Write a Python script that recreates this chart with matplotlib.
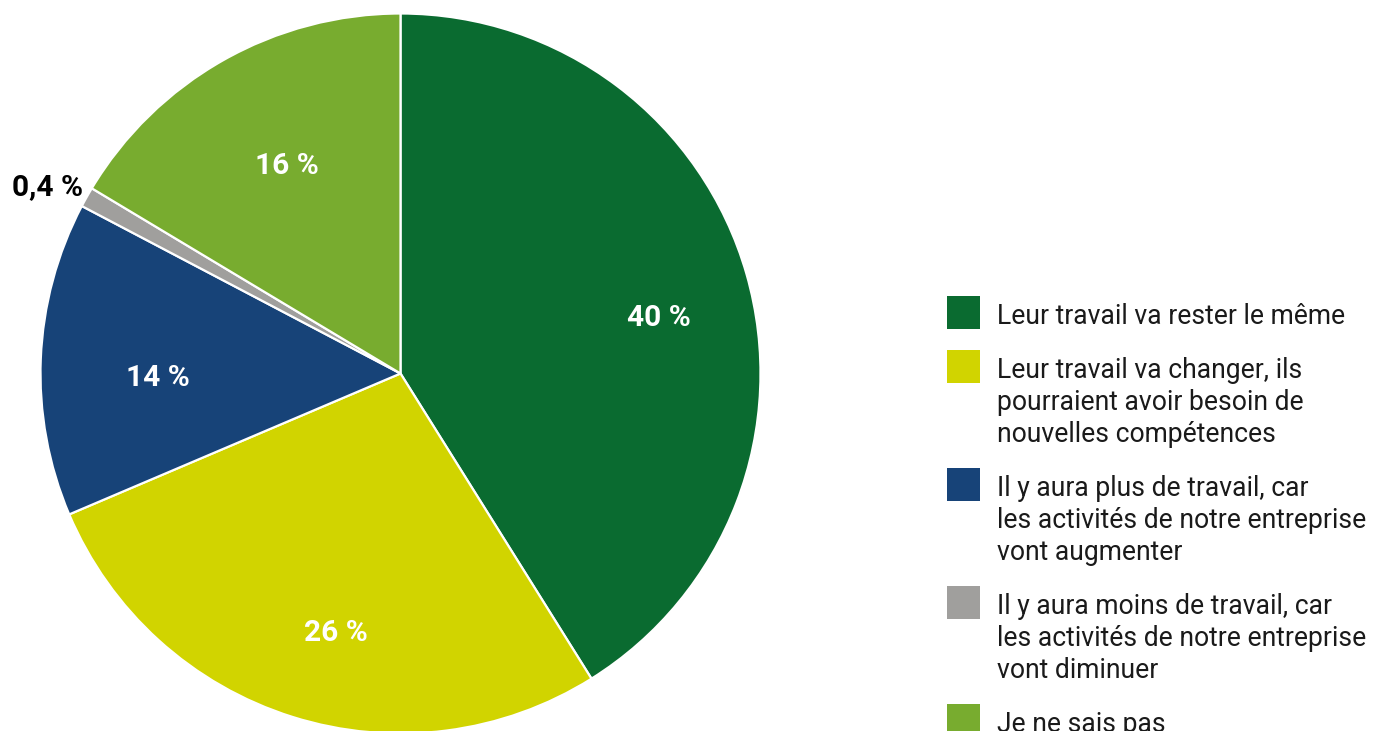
import numpy as np
import matplotlib
matplotlib.use("Agg")
import matplotlib.pyplot as plt
from matplotlib.patches import Rectangle

plt.rcParams['font.family'] = ['Roboto', 'DejaVu Sans']

# data
categories = [
    "Leur travail va rester le même",
    "Leur travail va changer, ils\npourraient avoir besoin de\nnouvelles compétences",
    "Il y aura plus de travail, car\nles activités de notre entreprise\nvont augmenter",
    "Il y aura moins de travail, car\nles activités de notre entreprise\nvont diminuer",
    "Je ne sais pas",
]
shares = [41.1, 27.5, 14.1, 0.9, 16.4]
pct_labels = ["40 %", "26 %", "14 %", "0,4 %", "16 %"]
colors = ["#0A6B30", "#D1D400", "#174378", "#A09F9D", "#78AC2F"]

W, H = 1373, 731
fig = plt.figure(figsize=(W / 100, H / 100), dpi=100)

cx, cy, r = 400.5, 373.5, 360
ax = fig.add_axes([(cx - r) / W, (H - cy - r) / H, 2 * r / W, 2 * r / H])

wedges, _ = ax.pie(shares, colors=colors, startangle=90, counterclock=False,
                   radius=1, wedgeprops=dict(edgecolor="white", linewidth=1.6))
ax.set_xlim(-1, 1)
ax.set_ylim(-1, 1)
ax.set_aspect("equal")
ax.axis("off")

for w, lab in zip(wedges, pct_labels):
    mid = np.deg2rad((w.theta1 + w.theta2) / 2)
    if lab.startswith("0,"):
        d, col, off = 1.11, "black", (-3, -7)
    else:
        d, col, off = 0.71, "white", (9, -11)
    ax.annotate(lab, (d * np.cos(mid), d * np.sin(mid)), xytext=off,
                textcoords="offset points", ha="center", va="center",
                color=col, fontsize=21.5, fontweight="bold")

# legend: square beside first line of each (multi-line) label
line_h = 32      # px per text line
gap = 22         # px between entries
sq = 33          # square size, px
x_sq, x_txt = 947, 997
top = 296
for lab, c in zip(categories, colors):
    fig.add_artist(Rectangle((x_sq / W, 1 - (top + sq) / H), sq / W, sq / H,
                             transform=fig.transFigure, facecolor=c, edgecolor="none"))
    fig.text(x_txt / W, 1 - (top + 7.5) / H, lab, ha="left", va="top",
             fontsize=19.1, color="#1a1a1a", linespacing=1.23)
    top += line_h * (lab.count("\n") + 1) + gap

fig.savefig("out.png", dpi=100)
